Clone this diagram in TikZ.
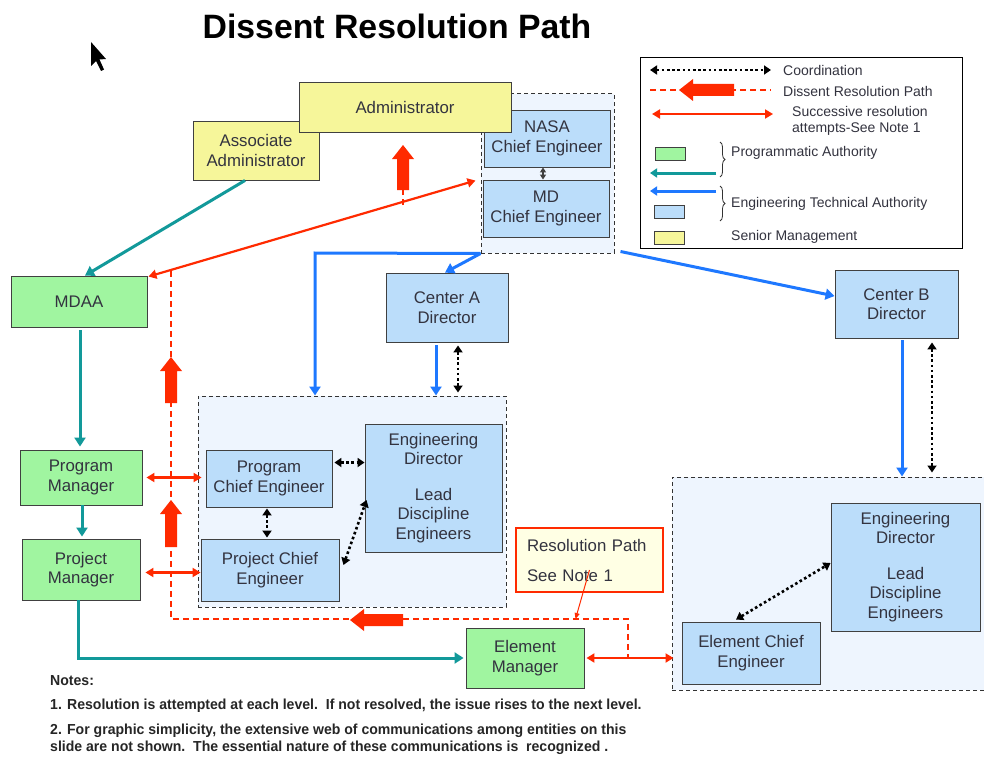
\documentclass[tikz,border=0pt]{standalone}
\usepackage{fontspec}
\setmainfont{Liberation Sans}
\usetikzlibrary{arrows.meta,decorations.pathreplacing}
\definecolor{yfill}{HTML}{F6F69A}
\definecolor{gfill}{HTML}{A0F5A0}
\definecolor{bfill}{HTML}{BBDDFA}
\definecolor{cfill}{HTML}{EEF5FE}
\definecolor{teal1}{HTML}{12999A}
\definecolor{blue1}{HTML}{1E78FF}
\definecolor{red1}{HTML}{FF2A00}
\definecolor{bord}{HTML}{404040}
\definecolor{txt}{HTML}{33333F}
\definecolor{rfill}{HTML}{FFFFE4}
\begin{document}
\begin{tikzpicture}[x=1pt,y=-1pt,
 nbox/.style={draw=bord,line width=0.9pt,align=center,font=\fontsize{16.8}{19.5}\selectfont,text=txt,inner sep=1pt},
 ybox/.style={nbox,fill=yfill},
 gbox/.style={nbox,fill=gfill},
 bbox/.style={nbox,fill=bfill},
 lbox/.style={draw=bord,line width=0.9pt,inner sep=0pt,minimum width=30pt,minimum height=13pt},
 cont/.style={draw=black!80,line width=1pt,fill=cfill,dash pattern=on 4pt off 3pt,inner sep=0pt},
 tealarr/.style={draw=teal1,line width=3pt,-{Triangle[length=9pt,width=11pt]}},
 bluearr/.style={draw=blue1,line width=3pt,-{Triangle[length=9pt,width=11pt]}},
 redarr/.style={draw=red1,line width=2.2pt,{Triangle[length=8pt,width=9pt]}-{Triangle[length=8pt,width=9pt]}},
 rdash/.style={draw=red1,line width=1.6pt,dash pattern=on 6pt off 4pt},
 coordarr/.style={draw=black,line width=2.6pt,dash pattern=on 2.6pt off 2.6pt,{Triangle[length=7pt,width=9pt]}-{Triangle[length=7pt,width=9pt]}},
 legtxt/.style={anchor=west,font=\fontsize{14}{16}\selectfont,text=txt,align=left,inner sep=0pt},
 notetxt/.style={anchor=west,font=\bfseries\fontsize{14.5}{17}\selectfont,text=black!85,align=left,inner sep=0pt},
 pics/fatarr/.style={code={\fill[red1] (0,0) -- (14,11) -- (14,6) -- (#1,6) -- (#1,-6) -- (14,-6) -- (14,-11) -- cycle;}}
]
\useasboundingbox (0,0) rectangle (984,757);
\fill[white] (0,0) rectangle (984,757);

% title and cursor
\node[font=\bfseries\fontsize{33.8}{40}\selectfont] (title) at (397,26) {Dissent Resolution Path};
\fill[black] (91,42) -- (91,66) -- (96,61) -- (101,71) -- (104,69.5) -- (99.5,59.5) -- (106,59) -- cycle;

% containers
\node[cont,minimum width=133pt,minimum height=159pt] (topcont) at (547.5,173.5) {};
\node[cont,minimum width=308pt,minimum height=211pt] (midcont) at (352,501.5) {};
\node[cont,minimum width=318pt,minimum height=213pt] (rightcont) at (831,583.5) {};

% boxes
\node[ybox,minimum width=126pt,minimum height=59pt] (assoc) at (256,150.5) {Associate\\Administrator};
\node[bbox,minimum width=126pt,minimum height=57pt] (nasa) at (547,138.5) {NASA\\Chief Engineer};
\node[bbox,minimum width=126pt,minimum height=57pt] (mdce) at (546,208.5) {MD\\Chief Engineer};
\node[ybox,minimum width=212pt,minimum height=50pt] (admin) at (405,107) {Administrator};
\node[gbox,minimum width=136pt,minimum height=51pt] (mdaa) at (79,301.5) {MDAA};
\node[bbox,minimum width=122pt,minimum height=69pt] (centerA) at (447,307.5) {Center A\\Director};
\node[bbox,minimum width=123pt,minimum height=68pt] (centerB) at (896.5,304) {Center B\\Director};
\node[gbox,minimum width=122pt,minimum height=55pt] (pm) at (81,477.5) {Program\\Manager};
\node[gbox,minimum width=118pt,minimum height=61pt] (prjm) at (81,569.5) {Project\\Manager};
\node[bbox,minimum width=126pt,minimum height=57pt] (pce) at (269,478.5) {Program\\Chief Engineer};
\node[bbox,minimum width=138pt,minimum height=62pt] (prjce) at (270,570) {Project Chief\\Engineer};
\node[bbox,minimum width=137pt,minimum height=128pt] (ed1) at (433.5,488) {Engineering\\Director\\[16pt]Lead\\Discipline\\Engineers};
\node[draw=red1,line width=2pt,fill=rfill,minimum width=147pt,minimum height=64pt,text width=125pt,align=left,font=\fontsize{16.8}{19.5}\selectfont,text=txt] (respath) at (589.5,560) {Resolution Path\\[10.5pt]See Note 1};
\node[gbox,minimum width=118pt,minimum height=60pt] (em) at (525,658) {Element\\Manager};
\node[bbox,minimum width=138pt,minimum height=62pt] (ece) at (751,653) {Element Chief\\Engineer};
\node[bbox,minimum width=149pt,minimum height=128pt] (ed2) at (905.5,567) {Engineering\\Director\\[16pt]Lead\\Discipline\\Engineers};

% teal (programmatic)
\draw[tealarr] ([xshift=-11pt]assoc.south) -- ([xshift=6pt]mdaa.north);
\draw[tealarr] ([xshift=1pt,yshift=-3pt]mdaa.south) -- ([xshift=1pt,yshift=3pt]mdaa.south |- pm.north);
\draw[tealarr] ([xshift=1pt]pm.south) -- ([xshift=1pt,yshift=2pt]pm.south |- prjm.north);
\draw[tealarr] ([xshift=-3pt]prjm.south) |- ([xshift=-2pt]em.west);

% blue (engineering technical)
\coordinate (bcorner) at (315,253);
\draw[bluearr] (topcont.south west) -- (bcorner) -- (bcorner |- midcont.north);
\draw[bluearr] (topcont.south west) -- ([xshift=-2pt]centerA.north);
\draw[bluearr] ([xshift=6pt,yshift=2pt]topcont.south east) -- ([yshift=8pt]centerB.west);
\draw[bluearr] ([xshift=-11pt,yshift=-3pt]centerA.south) -- ([xshift=-11pt]centerA.south |- midcont.north);
\draw[bluearr] ([xshift=5.5pt,yshift=-2pt]centerB.south) -- ([xshift=5.5pt]centerB.south |- rightcont.north);

% coordination
\draw[draw=bord,line width=1.6pt,{Triangle[length=5pt,width=6pt]}-{Triangle[length=5pt,width=6pt]}] ([xshift=-4pt]nasa.south) -- ([xshift=-4pt]nasa.south |- mdce.north);
\draw[coordarr] ([xshift=11pt,yshift=-3pt]centerA.south) -- ([xshift=11pt,yshift=3pt]centerA.south |- midcont.north);
\draw[coordarr] ([xshift=35.5pt,yshift=-4pt]centerB.south) -- ([xshift=35.5pt,yshift=4pt]centerB.south |- rightcont.north);
\draw[coordarr] ([xshift=2pt,yshift=16pt]pce.east) -- ([yshift=16pt]pce.east -| ed1.west);
\draw[coordarr] ([xshift=-2pt,yshift=-1pt]pce.south) -- ([xshift=-2pt,yshift=1pt]pce.south |- prjce.north);
\draw[coordarr] ([xshift=4pt,yshift=5pt]prjce.east) -- ([xshift=2pt,yshift=-12pt]ed1.west);
\draw[coordarr] ([xshift=-15pt,yshift=2pt]ece.north) -- ([yshift=4pt]ed2.west);

% dissent resolution path
\coordinate (dp1) at (171,271);
\coordinate (dp2) at (171,619);
\coordinate (dp3) at (628,619);
\coordinate (dp4) at (628,657);
\draw[rdash] (dp1) -- (dp2) -- (dp3) -- (dp4);
\coordinate (adm1) at (403,205);
\draw[rdash] (adm1) -- (403,186);
\pic[rotate=-90] at (403,145) {fatarr=45};
\pic[rotate=-90] at (171,357) {fatarr=46};
\pic[rotate=-90] at (171,500) {fatarr=47};
\pic at (350,620) {fatarr=53};
\draw[draw=red1,line width=1pt,-{Triangle[length=6pt,width=5pt]}] ([yshift=-10pt]respath.center) -- ([xshift=-14pt]respath.center |- dp3);

% successive resolution attempts
\draw[redarr] ([xshift=-5pt,yshift=-1pt]topcont.west |- mdce.north) -- ([xshift=1pt,yshift=-1pt]mdaa.north east);
\draw[redarr] ([xshift=4pt]pm.east) -- ([xshift=-4pt]pm.east -| pce.west);
\draw[redarr] ([xshift=5pt,yshift=-3pt]prjm.east) -- ([yshift=-3pt]prjm.east -| prjce.west);
\draw[redarr] ([xshift=2pt]em.east) -- ([xshift=2pt]em.east -| rightcont.west);

% legend
\node[draw=black,line width=1pt,minimum width=322pt,minimum height=190pt,inner sep=0pt] (legend) at (801,153) {};
\coordinate (lc1) at (650,70); \coordinate (lc2) at (771,70);
\draw[coordarr] (lc1) -- (lc2);
\node[legtxt] (lt1) at (783,70) {Coordination};
\coordinate (ld1) at (650,90); \coordinate (ld2) at (771,90);
\draw[rdash,line width=1.2pt] (ld1) -- (ld2);
\pic at (679,90) {fatarr=55};
\node[legtxt] (lt2) at (783,91) {Dissent Resolution Path};
\coordinate (lr1) at (652,114); \coordinate (lr2) at (773,114);
\draw[redarr,line width=1.8pt] (lr1) -- (lr2);
\node[legtxt] (lt3) at (792,121) {Successive resolution\\attempts-See Note 1};
\node[lbox,fill=gfill] (lg) at (670,153.5) {};
\coordinate (lt4a) at (716,173); \coordinate (lt4b) at (650,173);
\draw[tealarr,line width=3pt,-{Triangle[length=7pt,width=9pt]}] (lt4a) -- (lt4b);
\draw[draw=black!80,line width=0.8pt,decorate,decoration={brace,amplitude=5pt}] (720,142) -- (720,177);
\node[legtxt] (lt4) at (731,153) {Programmatic Authority};
\coordinate (lb1) at (716,191); \coordinate (lb2) at (650,191);
\draw[bluearr,line width=3pt,-{Triangle[length=7pt,width=9pt]}] (lb1) -- (lb2);
\node[lbox,fill=bfill] (lbx) at (669,211.5) {};
\draw[draw=black!80,line width=0.8pt,decorate,decoration={brace,amplitude=5pt}] (720,186) -- (720,221);
\node[legtxt] (lt5) at (731,204) {Engineering Technical Authority};
\node[lbox,fill=yfill] (ly) at (669,237.5) {};
\node[legtxt] (lt6) at (731,237) {Senior Management};

% notes
\node[notetxt] (n0) at (50,681) {\scalebox{0.97}[1]{Notes:}};
\node[notetxt] (n1) at (50,706) {\scalebox{0.97}[1]{1. Resolution is attempted at each level.\ \ If not resolved, the issue rises to the next level.}};
\node[notetxt] (n2) at (50,731) {\scalebox{0.97}[1]{2. For graphic simplicity, the extensive web of communications among entities on this}};
\node[notetxt] (n3) at (50,748) {\scalebox{0.97}[1]{slide are not shown.\ \ The essential nature of these communications is\ \ recognized .}};
\end{tikzpicture}
\end{document}
